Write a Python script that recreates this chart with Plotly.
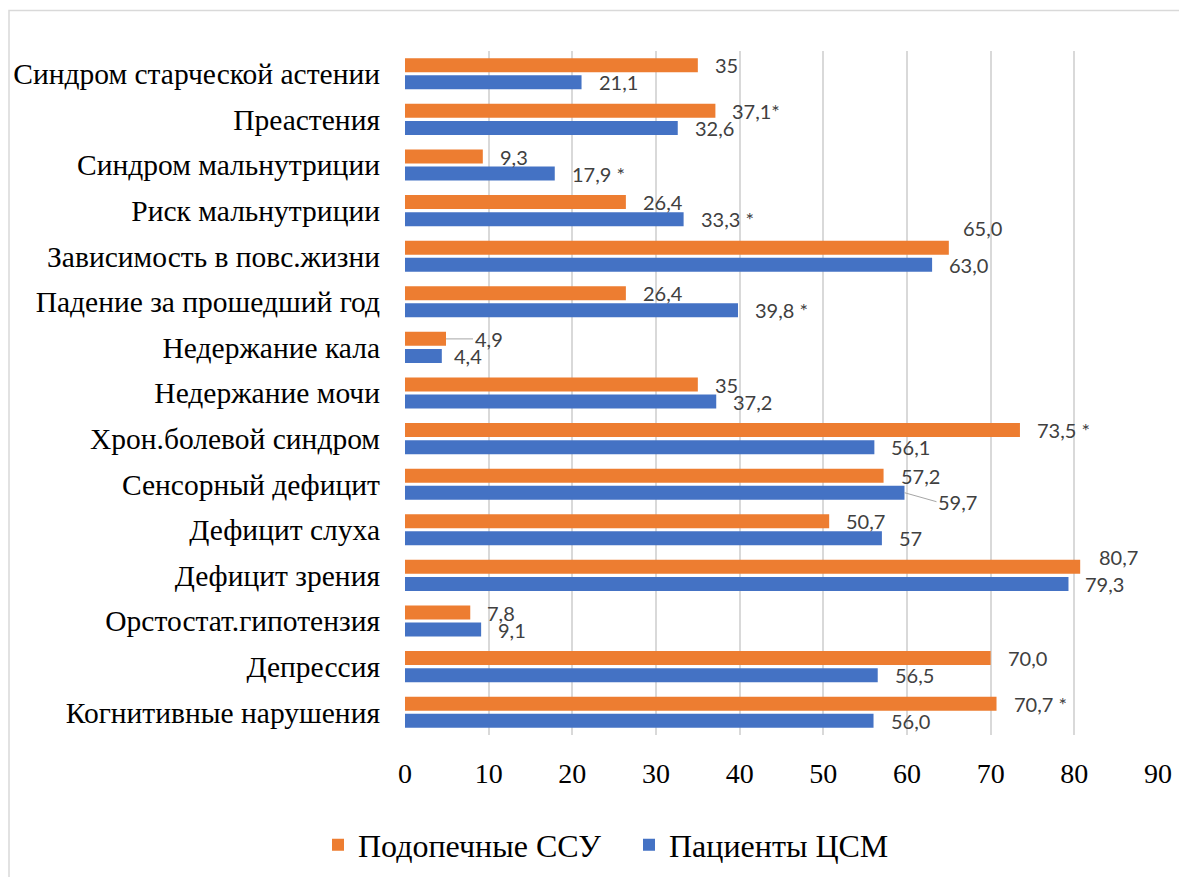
import plotly.graph_objects as go

categories = [
    "Синдром старческой астении",
    "Преастения",
    "Синдром мальнутриции",
    "Риск мальнутриции",
    "Зависимость в повс.жизни",
    "Падение за прошедший год",
    "Недержание кала",
    "Недержание мочи",
    "Хрон.болевой синдром",
    "Сенсорный дефицит",
    "Дефицит слуха",
    "Дефицит зрения",
    "Орстостат.гипотензия",
    "Депрессия",
    "Когнитивные нарушения",
]

ssu_name = "Подопечные ССУ"
ssu_values = [35, 37.1, 9.3, 26.4, 65.0, 26.4, 4.9, 35, 73.5, 57.2, 50.7, 80.7, 7.8, 70.0, 70.7]
ssu_labels = ["35", "37,1*", "9,3", "26,4", "65,0", "26,4", "4,9", "35", "73,5 *", "57,2",
              "50,7", "80,7", "7,8", "70,0", "70,7 *"]

csm_name = "Пациенты ЦСМ"
csm_values = [21.1, 32.6, 17.9, 33.3, 63.0, 39.8, 4.4, 37.2, 56.1, 59.7, 57, 79.3, 9.1, 56.5, 56.0]
csm_labels = ["21,1", "32,6", "17,9 *", "33,3 *", "63,0", "39,8 *", "4,4", "37,2", "56,1", "59,7",
              "57", "79,3", "9,1", "56,5", "56,0"]

x_ticks = [0, 10, 20, 30, 40, 50, 60, 70, 80, 90]

# styling
ORANGE = "#ED7D31"
BLUE = "#4472C4"
GRID = "#D9D9D9"
LABEL_COLOR = "#404040"
SERIF = "Liberation Serif, Times New Roman, serif"
SANS = "Lato, Noto Sans, sans-serif"
LABEL_SIZE = 20

# label placement tweaks (pixel offsets), keyed by (series index, category index)
label_adjust = {
    (0, 4): dict(dx=13, dy=20),
    (0, 11): dict(dx=18, dy=10),
    (1, 6): dict(dx=11, dy=0),
}
leader = {
    (0, 6): dict(ax=27, ay=0),
    (1, 9): dict(ax=32, ay=9),
}

fig = go.Figure()
fig.add_trace(go.Bar(y=categories, x=ssu_values, name=ssu_name, orientation="h",
                     marker=dict(color=ORANGE, line=dict(width=0))))
fig.add_trace(go.Bar(y=categories, x=csm_values, name=csm_name, orientation="h",
                     marker=dict(color=BLUE, line=dict(width=0))))

annotations = []
BAR_OFFSET = 8.5
for si, (vals, labels) in enumerate([(ssu_values, ssu_labels), (csm_values, csm_labels)]):
    base_shift = BAR_OFFSET if si == 0 else -BAR_OFFSET
    for ci, (v, t) in enumerate(zip(vals, labels)):
        key = (si, ci)
        if key in leader:
            annotations.append(dict(
                x=v, y=categories[ci], xref="x", yref="y", text=t,
                showarrow=True, arrowhead=0, arrowwidth=1, arrowcolor="#A6A6A6",
                ax=leader[key]["ax"], ay=leader[key]["ay"], xanchor="left", yanchor="middle",
                yshift=base_shift, standoff=0,
                font=dict(family=SANS, size=LABEL_SIZE, color=LABEL_COLOR)))
        else:
            adj = label_adjust.get(key, dict(dx=16, dy=0))
            annotations.append(dict(
                x=v, y=categories[ci], xref="x", yref="y", text=t, showarrow=False,
                xanchor="left", yanchor="middle", xshift=adj["dx"] - 1,
                yshift=base_shift + adj["dy"],
                font=dict(family=SANS, size=LABEL_SIZE, color=LABEL_COLOR)))

L, R, T, B = 405, 21, 51, 142
W, H = 1179, 877
pw = W - L - R
ph = H - T - B

fig.update_layout(
    width=W, height=H,
    margin=dict(l=L, r=R, t=T, b=B, autoexpand=False),
    paper_bgcolor="white", plot_bgcolor="white",
    barmode="group", bargap=0.25, bargroupgap=0.18,
    annotations=annotations,
    showlegend=True,
    legend=dict(orientation="h", x=(629 - L) / pw, xanchor="center",
                y=-(845 - (H - B)) / ph, yanchor="middle",
                font=dict(family=SERIF, size=32, color="#000000"),
                traceorder="normal", entrywidth=266, entrywidthmode="pixels"),
    shapes=[dict(type="rect", xref="paper", yref="paper",
                 x0=(9 - L) / pw, x1=(W + 10 - L) / pw,
                 y0=-(B + 20) / ph, y1=1 + (T - 10.5) / ph,
                 line=dict(color=GRID, width=1.5), fillcolor="rgba(0,0,0,0)", layer="below")],
)

fig.update_xaxes(range=[0, 90], tickvals=x_ticks, ticktext=[str(v) for v in x_ticks],
                 showgrid=True, gridcolor=GRID, gridwidth=1.5, zeroline=False,
                 showline=False, ticks="", ticklabelstandoff=19,
                 tickfont=dict(family=SERIF, size=28, color="#000000"))
fig.update_yaxes(categoryorder="array", categoryarray=categories, autorange="reversed",
                 showgrid=False, showline=False, ticks="", ticklabelstandoff=24,
                 tickfont=dict(family=SERIF, size=29.5, color="#000000"))

fig.write_html("out.html", config={"displayModeBar": False},
               post_script="document.body.style.margin='0';document.body.style.overflow='hidden';")
